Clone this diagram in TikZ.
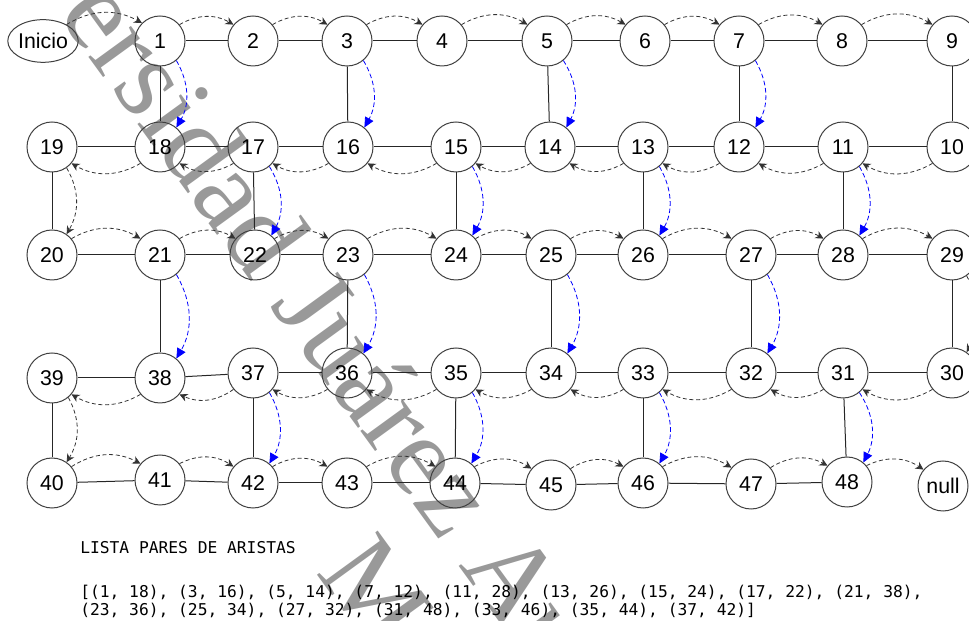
\documentclass[tikz,border=0pt]{standalone}
\usepackage{fontspec}
\setmainfont{Liberation Sans}
\setmonofont{DejaVu Sans Mono}
\newfontfamily\wmfont{Liberation Serif}
\usetikzlibrary{arrows.meta,shapes.geometric}
\tikzset{
  vert/.style={circle,draw=black!75,line width=0.75pt,minimum size=37.5pt,inner sep=0pt,font=\fontsize{16}{18}\selectfont},
  beg/.style={ellipse,draw=black!75,line width=0.75pt,minimum width=52.5pt,minimum height=32pt,inner sep=0pt,font=\fontsize{16}{18}\selectfont},
  link/.style={line width=0.75pt,black!85},
  % the list order (grey) and the jumps between rows (blue)
  nxt/.style={-{Stealth[length=6pt,width=6pt]},line width=0.6pt,black!80,dash pattern=on 3pt off 2pt},
  jmp/.style={-{Triangle[length=7.5pt,width=7pt]},line width=0.6pt,blue,dash pattern=on 3.5pt off 2pt},
  wm/.style={text=black!40,font=\wmfont\fontsize{86}{96}\selectfont,anchor=base west,rotate=-54,inner sep=0pt},
  lst/.style={font=\ttfamily\fontsize{12.2}{13.5}\selectfont,anchor=west,align=left,inner sep=0pt},
}
\begin{document}
\begin{tikzpicture}[x=0.75pt,y=0.75pt]
  \useasboundingbox (0,0) rectangle (969,620);
  \clip (0,0) rectangle (969,620);
  % ---- watermark ----
  \node[wm] (wmA) at (-77,791) {Universidad Juárez Autónoma de Tabasco};
  \node[wm] (wmB) at (315,48) {México};
  % ---- row 1 ----
  \node[beg] (inicio) at (43,579) {Inicio};
  \node[vert] (n1) at (160,579) {1};
  \node[vert] (n2) at (253,579) {2};
  \node[vert] (n3) at (347,579) {3};
  \node[vert] (n4) at (442,579) {4};
  \node[vert] (n5) at (547,579) {5};
  \node[vert] (n6) at (645,579) {6};
  \node[vert] (n7) at (739,579) {7};
  \node[vert] (n8) at (842,579) {8};
  \node[vert] (n9) at (952,579) {9};
  % ---- row 2 ----
  \node[vert] (n19) at (52,473) {19};
  \node[vert] (n18) at (160,473) {18};
  \node[vert] (n17) at (253,473) {17};
  \node[vert] (n16) at (348,473) {16};
  \node[vert] (n15) at (456,473) {15};
  \node[vert] (n14) at (550,473) {14};
  \node[vert] (n13) at (643,473) {13};
  \node[vert] (n12) at (739,473) {12};
  \node[vert] (n11) at (843,473) {11};
  \node[vert] (n10) at (952,473) {10};
  % ---- row 3 ----
  \node[vert] (n20) at (52,365) {20};
  \node[vert] (n21) at (160,365) {21};
  \node[vert] (n22) at (255,365) {22};
  \node[vert] (n23) at (348,365) {23};
  \node[vert] (n24) at (456,365) {24};
  \node[vert] (n25) at (551,365) {25};
  \node[vert] (n26) at (643,365) {26};
  \node[vert] (n27) at (751,365) {27};
  \node[vert] (n28) at (843,365) {28};
  \node[vert] (n29) at (952,365) {29};
  % ---- row 4 ----
  \node[vert] (n39) at (52,242) {39};
  \node[vert] (n38) at (160,242) {38};
  \node[vert] (n37) at (253,247) {37};
  \node[vert] (n36) at (347,247) {36};
  \node[vert] (n35) at (456,247) {35};
  \node[vert] (n34) at (551,247) {34};
  \node[vert] (n33) at (643,247) {33};
  \node[vert] (n32) at (751,247) {32};
  \node[vert] (n31) at (843,247) {31};
  \node[vert] (n30) at (952,247) {30};
  % ---- row 5 ----
  \node[vert] (n40) at (52,137) {40};
  \node[vert] (n41) at (160,140) {41};
  \node[vert] (n42) at (253,137) {42};
  \node[vert] (n43) at (347,137) {43};
  \node[vert] (n44) at (455,137) {44};
  \node[vert] (n45) at (551,135) {45};
  \node[vert] (n46) at (643,137) {46};
  \node[vert] (n47) at (751,136) {47};
  \node[vert] (n48) at (847,138) {48};
  \node[vert] (null) at (943,134) {null};
  % ---- edges of the grid ----
  \draw[link] (n1)--(n2); \draw[link] (n2)--(n3); \draw[link] (n3)--(n4); \draw[link] (n4)--(n5);
  \draw[link] (n5)--(n6); \draw[link] (n6)--(n7); \draw[link] (n7)--(n8); \draw[link] (n8)--(n9);
  \draw[link] (n1)--(n18); \draw[link] (n3)--(n16); \draw[link] (n5)--(n14); \draw[link] (n7)--(n12); \draw[link] (n9)--(n10);
  \draw[link] (n19)--(n18); \draw[link] (n18)--(n17); \draw[link] (n17)--(n16); \draw[link] (n16)--(n15); \draw[link] (n15)--(n14);
  \draw[link] (n14)--(n13); \draw[link] (n13)--(n12); \draw[link] (n12)--(n11); \draw[link] (n11)--(n10);
  \draw[link] (n19)--(n20); \draw[link] (n17)--(n22); \draw[link] (n15)--(n24); \draw[link] (n13)--(n26); \draw[link] (n11)--(n28);
  \draw[link] (n20)--(n21); \draw[link] (n21)--(n22); \draw[link] (n22)--(n23); \draw[link] (n23)--(n24); \draw[link] (n24)--(n25);
  \draw[link] (n25)--(n26); \draw[link] (n26)--(n27); \draw[link] (n27)--(n28); \draw[link] (n28)--(n29);
  \draw[link] (n21)--(n38); \draw[link] (n23)--(n36); \draw[link] (n25)--(n34); \draw[link] (n27)--(n32); \draw[link] (n29)--(n30);
  \draw[link] (n39)--(n38); \draw[link] (n38)--(n37); \draw[link] (n37)--(n36); \draw[link] (n36)--(n35); \draw[link] (n35)--(n34);
  \draw[link] (n34)--(n33); \draw[link] (n33)--(n32); \draw[link] (n32)--(n31); \draw[link] (n31)--(n30);
  \draw[link] (n39)--(n40); \draw[link] (n37)--(n42); \draw[link] (n35)--(n44); \draw[link] (n33)--(n46); \draw[link] (n31)--(n48);
  \draw[link] (n40)--(n41); \draw[link] (n41)--(n42); \draw[link] (n42)--(n43); \draw[link] (n43)--(n44);
  \draw[link] (n44)--(n45); \draw[link] (n45)--(n46); \draw[link] (n46)--(n47); \draw[link] (n47)--(n48);
  % ---- list order, snaking through the rows ----
  \draw[nxt] (inicio.35) to[bend left=30] (n1.135);
  \draw[nxt] (n1.40) to[bend left=30] (n2.140); \draw[nxt] (n2.40) to[bend left=30] (n3.140);
  \draw[nxt] (n3.40) to[bend left=30] (n4.140); \draw[nxt] (n4.40) to[bend left=30] (n5.140);
  \draw[nxt] (n5.40) to[bend left=30] (n6.140); \draw[nxt] (n6.40) to[bend left=30] (n7.140);
  \draw[nxt] (n7.40) to[bend left=30] (n8.140); \draw[nxt] (n8.40) to[bend left=30] (n9.140);
  \draw[nxt] (n10.-140) to[bend left=30] (n11.-40); \draw[nxt] (n11.-140) to[bend left=30] (n12.-40);
  \draw[nxt] (n12.-140) to[bend left=30] (n13.-40); \draw[nxt] (n13.-140) to[bend left=30] (n14.-40);
  \draw[nxt] (n14.-140) to[bend left=30] (n15.-40); \draw[nxt] (n15.-140) to[bend left=30] (n16.-40);
  \draw[nxt] (n16.-140) to[bend left=30] (n17.-40); \draw[nxt] (n17.-140) to[bend left=30] (n18.-40);
  \draw[nxt] (n18.-140) to[bend left=30] (n19.-40);
  \draw[nxt] (n19.-55) to[bend left=30] (n20.55);
  \draw[nxt] (n20.40) to[bend left=30] (n21.140); \draw[nxt] (n21.40) to[bend left=30] (n22.140);
  \draw[nxt] (n22.40) to[bend left=30] (n23.140); \draw[nxt] (n23.40) to[bend left=30] (n24.140);
  \draw[nxt] (n24.40) to[bend left=30] (n25.140); \draw[nxt] (n25.40) to[bend left=30] (n26.140);
  \draw[nxt] (n26.40) to[bend left=30] (n27.140); \draw[nxt] (n27.40) to[bend left=30] (n28.140);
  \draw[nxt] (n28.40) to[bend left=30] (n29.140);
  \draw[nxt] (n29.-55) to[bend left=30] (n30.55);
  \draw[nxt] (n30.-140) to[bend left=30] (n31.-40); \draw[nxt] (n31.-140) to[bend left=30] (n32.-40);
  \draw[nxt] (n32.-140) to[bend left=30] (n33.-40); \draw[nxt] (n33.-140) to[bend left=30] (n34.-40);
  \draw[nxt] (n34.-140) to[bend left=30] (n35.-40); \draw[nxt] (n35.-140) to[bend left=30] (n36.-40);
  \draw[nxt] (n36.-140) to[bend left=30] (n37.-40); \draw[nxt] (n37.-140) to[bend left=30] (n38.-40);
  \draw[nxt] (n38.-140) to[bend left=30] (n39.-40);
  \draw[nxt] (n39.-50) to[bend left=30] (n40.55);
  \draw[nxt] (n40.40) to[bend left=30] (n41.140); \draw[nxt] (n41.40) to[bend left=30] (n42.140);
  \draw[nxt] (n42.40) to[bend left=30] (n43.140); \draw[nxt] (n43.40) to[bend left=30] (n44.140);
  \draw[nxt] (n44.40) to[bend left=30] (n45.140); \draw[nxt] (n45.40) to[bend left=30] (n46.140);
  \draw[nxt] (n46.40) to[bend left=30] (n47.140); \draw[nxt] (n47.40) to[bend left=30] (n48.140);
  \draw[nxt] (n48.40) to[bend left=30] (null.140);
  % ---- pairs of edges, upper vertex to lower vertex ----
  \draw[jmp] (n1.-50) to[bend left=30] (n18.50); \draw[jmp] (n3.-50) to[bend left=30] (n16.50);
  \draw[jmp] (n5.-50) to[bend left=30] (n14.50); \draw[jmp] (n7.-50) to[bend left=30] (n12.50);
  \draw[jmp] (n11.-50) to[bend left=30] (n28.50); \draw[jmp] (n13.-50) to[bend left=30] (n26.50);
  \draw[jmp] (n15.-50) to[bend left=30] (n24.50); \draw[jmp] (n17.-50) to[bend left=30] (n22.50);
  \draw[jmp] (n21.-50) to[bend left=30] (n38.50); \draw[jmp] (n23.-50) to[bend left=30] (n36.50);
  \draw[jmp] (n25.-50) to[bend left=30] (n34.50); \draw[jmp] (n27.-50) to[bend left=30] (n32.50);
  \draw[jmp] (n31.-50) to[bend left=30] (n48.50); \draw[jmp] (n33.-50) to[bend left=30] (n46.50);
  \draw[jmp] (n35.-50) to[bend left=30] (n44.50); \draw[jmp] (n37.-50) to[bend left=30] (n42.50);
  % ---- printed list ----
  \node[lst] (title) at (80,72) {LISTA PARES DE ARISTAS};
  \node[lst] (pairs) at (80,19) {[(1, 18), (3, 16), (5, 14), (7, 12), (11, 28), (13, 26), (15, 24), (17, 22), (21, 38),\\(23, 36), (25, 34), (27, 32), (31, 48), (33, 46), (35, 44), (37, 42)]};
\end{tikzpicture}
\end{document}
